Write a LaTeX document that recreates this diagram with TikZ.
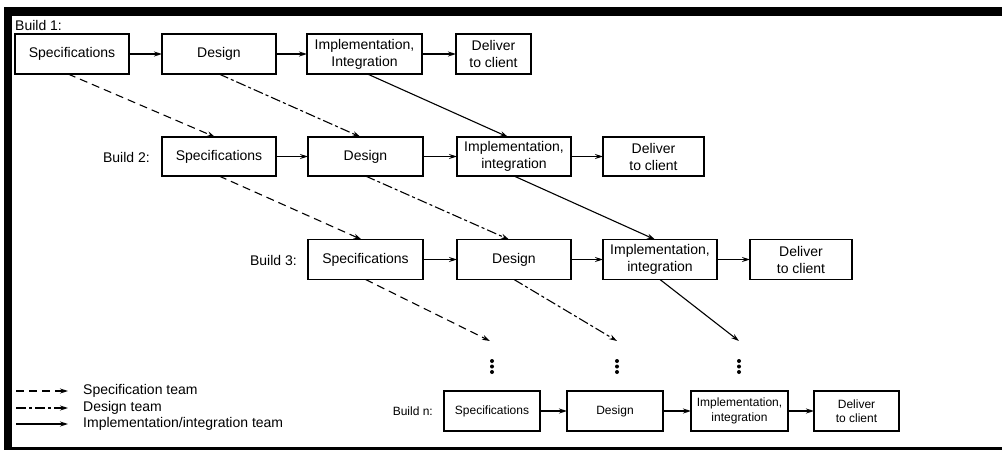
\documentclass[tikz,border=0pt]{standalone}
\usepackage{fontspec}
\setmainfont{Liberation Sans}
\usetikzlibrary{arrows.meta,calc}
\begin{document}
\begin{tikzpicture}[x=1pt,y=-1pt,
  box/.style={draw, line width=1.2pt, inner sep=1pt, outer sep=0pt, minimum height=40pt, align=center, font=\fontsize{14}{17}\selectfont},
  boxn/.style={box, font=\fontsize{12}{14.5}\selectfont},
  lbl/.style={inner sep=0pt, font=\fontsize{14}{17}\selectfont},
  tip/.style={-{Stealth[length=8pt,width=5pt]}},
  flow/.style={tip, line width=1.8pt},
  flowthin/.style={tip, line width=1.2pt},
  specteam/.style={tip, line width=1.1pt, dash pattern=on 8pt off 5pt},
  desteam/.style={tip, line width=1.1pt, dash pattern=on 10pt off 3pt on 3pt off 3pt},
  impteam/.style={tip, line width=1.1pt},
  frame/.style={fill=black}
]
\useasboundingbox (0,0) rectangle (1002,450);
\fill[white] (0,0) rectangle (1002,450);
% frame
\fill[frame] (4,7) rectangle (1002,16);
\fill[frame] (4,7) rectangle (12,450);
\fill[frame] (4,447) rectangle (1002,450);

% Build 1
\node[lbl, anchor=west] (b1) at (15,25) {Build 1:};
\node[box, minimum width=114pt] (s1) at (72,54) {Specifications};
\node[box, minimum width=114pt] (d1) at (219,54) {Design};
\node[box, minimum width=115pt] (i1) at (364.5,54) {Implementation,\\Integration};
\node[box, minimum width=75pt] (c1) at (493.5,54) {Deliver\\to client};

% Build 2
\node[lbl, anchor=east] (b2) at (150,157) {Build 2:};
\node[box, minimum width=114pt, minimum height=39pt] (s2) at (219,156.5) {Specifications};
\node[box, minimum width=115pt, minimum height=39pt] (d2) at (365.5,156.5) {Design};
\node[box, minimum width=114pt, minimum height=39pt] (i2) at (514,156.5) {Implementation,\\integration};
\node[box, minimum width=101pt, minimum height=39pt] (c2) at (653.5,156.5) {Deliver\\to client};

% Build 3
\node[lbl, anchor=east] (b3) at (297,260) {Build 3:};
\node[box, minimum width=115pt] (s3) at (365.5,259.5) {Specifications};
\node[box, minimum width=114pt] (d3) at (514,259.5) {Design};
\node[box, minimum width=114pt] (i3) at (660,259.5) {Implementation,\\integration};
\node[box, minimum width=102pt] (c3) at (801,259.5) {Deliver\\to client};

% Build n
\node[lbl, anchor=east, font=\fontsize{12}{14.5}\selectfont] (bn) at (433,411) {Build n:};
\node[boxn, minimum width=96pt] (sn) at (492,411) {Specifications};
\node[boxn, minimum width=96pt] (dn) at (615,411) {Design};
\node[boxn, minimum width=97pt] (in) at (739.5,411) {Implementation,\\integration};
\node[boxn, minimum width=85pt] (cn) at (856.5,411) {Deliver\\to client};

% vertical dots
\foreach \n/\x in {vs/492, vd/617, vi/739}{
  \node[inner sep=0pt, minimum size=0pt] (\n) at (\x,366) {};
  \fill (\x,361) circle (2pt);
  \fill (\x,366.5) circle (2pt);
  \fill (\x,372) circle (2pt);
}
\coordinate (es) at (490,341);
\coordinate (ed) at (617,341);
\coordinate (ei) at (739,341);

% horizontal flow
\foreach \r in {1,2,n}{
  \draw[flow] (s\r) -- (d\r);
  \draw[flow] (d\r) -- (i\r);
  \draw[flow] (i\r) -- (c\r);
}
\draw[flowthin] (s3) -- (d3);
\draw[flowthin] (d3) -- (i3);
\draw[flowthin] (i3) -- (c3);

% team connectors
\draw[specteam] ([xshift=-4pt]s1.south) -- ([xshift=-4pt]s2.north);
\draw[specteam] (s2.south) -- ([xshift=-4pt]s3.north);
\draw[specteam] (s3.south) -- (es);
\draw[desteam] (d1.south) -- ([xshift=-5pt]d2.north);
\draw[desteam] (d2.south) -- ([xshift=-5pt]d3.north);
\draw[desteam] (d3.south) -- (ed);
\draw[impteam] ([xshift=3pt]i1.south) -- ([xshift=-6pt]i2.north);
\draw[impteam] (i2.south) -- ([xshift=-5pt]i3.north);
\draw[impteam] (i3.south) -- (ei);

% legend
\coordinate (l1a) at (16,391); \coordinate (l1b) at (68,391);
\coordinate (l2a) at (16,408); \coordinate (l2b) at (68,408);
\coordinate (l3a) at (16,424); \coordinate (l3b) at (68,424);
\draw[specteam] (l1a) -- (l1b);
\draw[desteam] (l2a) -- (l2b);
\draw[impteam] (l3a) -- (l3b);
\node[lbl, anchor=west] (t1) at (83,391) {Specification team};
\node[lbl, anchor=west] (t2) at (83,408) {Design team};
\node[lbl, anchor=west] (t3) at (83,424) {Implementation/integration team};
\end{tikzpicture}
\end{document}
